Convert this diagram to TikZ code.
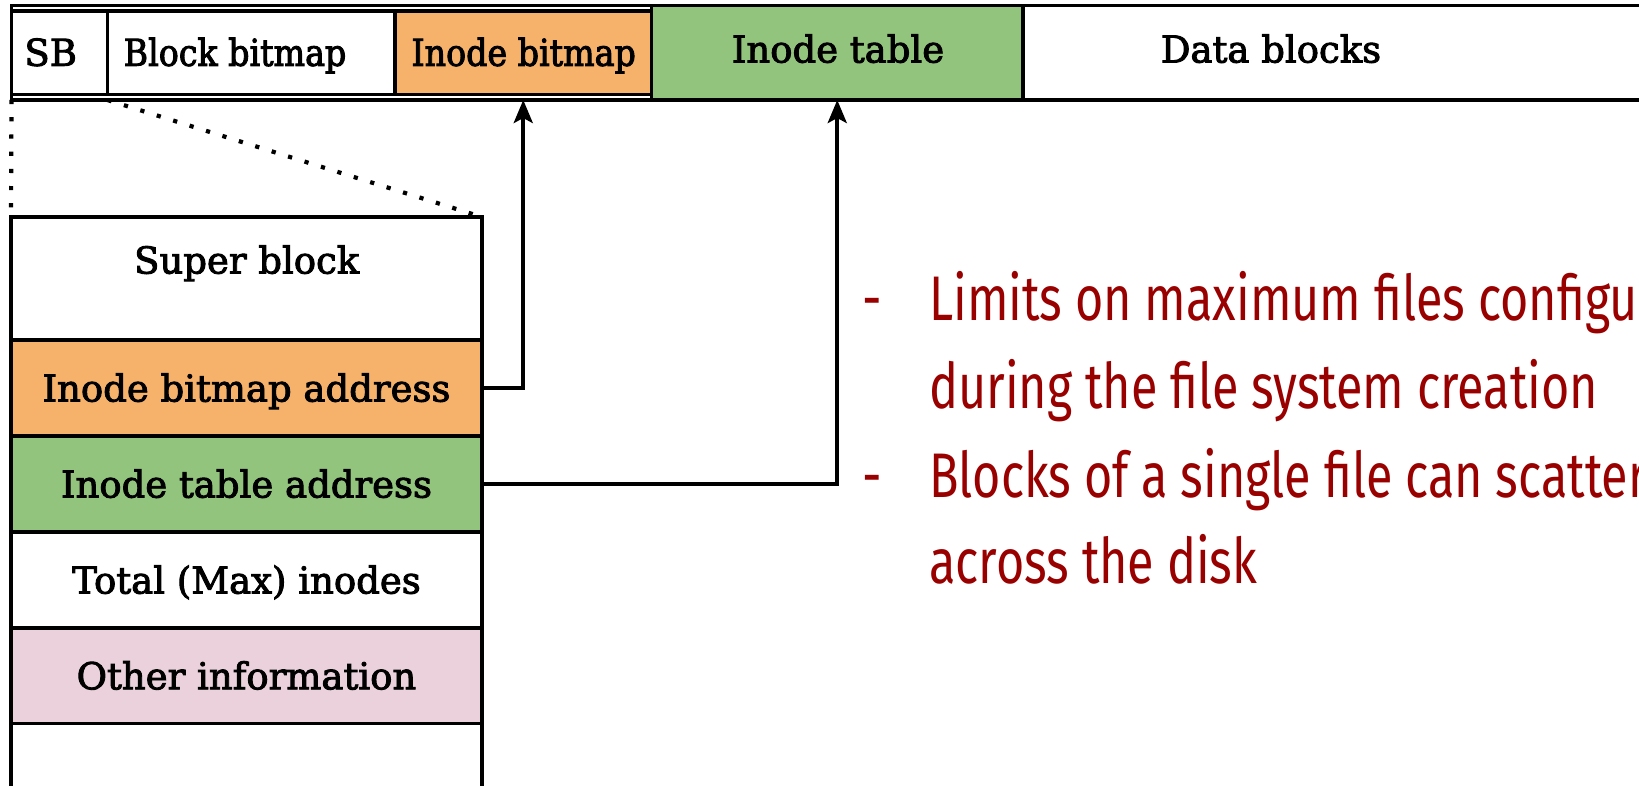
\documentclass[tikz,border=0pt]{standalone}
\usepackage{fontspec}
\setmainfont{DejaVu Serif}
\newfontfamily\boxfont[FakeBold=2.5]{DejaVu Serif}
\newfontfamily\boxfontnarrow[FakeBold=2.5,FakeStretch=0.9]{DejaVu Serif}
\newfontfamily\notefont[FakeStretch=0.77]{Fira Sans}
\usetikzlibrary{arrows.meta}
\definecolor{bmorange}{HTML}{F6B26B}
\definecolor{tblgreen}{HTML}{93C47D}
\definecolor{infopink}{HTML}{EAD1DC}
\definecolor{notered}{HTML}{990000}
\begin{document}
\begin{tikzpicture}[x=1pt,y=-1pt,
  cell/.style={draw=black, line width=3.3pt, inner sep=0pt, outer sep=0pt,
    text height=27pt, text depth=0pt, font=\boxfont\fontsize{37}{44}\selectfont},
  lbl/.style={inner sep=0pt, text height=27pt, text depth=0pt,
    font=\boxfont\fontsize{37}{44}\selectfont},
  narrowlbl/.style={lbl, font=\boxfontnarrow\fontsize{37}{44}\selectfont},
  conn/.style={line width=3.8pt, -{Stealth[length=23pt,width=19pt,inset=5pt]}},
  dots/.style={line width=4.2pt, dash pattern=on 4.2pt off 13pt},
  note/.style={inner sep=0pt, anchor=base west, text=notered,
    font=\notefont\fontsize{63}{76}\selectfont}]
\useasboundingbox (0,0) rectangle (1639,785);
\clip (0,0) rectangle (1639,785);

% on-disk layout: the block group row
\node[cell, fill=white,   minimum width=96pt,    minimum height=83.5pt] (sb) at (59.5,52.75) {};
\node[cell, fill=white,   minimum width=287.5pt, minimum height=83.5pt] (bb) at (251.25,52.75) {};
\node[cell, fill=bmorange,minimum width=256.5pt, minimum height=83.5pt] (ib) at (523.25,52.75) {};
\node[cell, fill=tblgreen,minimum width=371.5pt, minimum height=94.5pt] (it) at (837.25,52.75) {};
\node[cell, fill=white,   minimum width=697pt,   minimum height=94.5pt] (db) at (1371.5,52.75) {};
\node[cell, minimum width=1708.5pt, minimum height=94.5pt] (frame) at (865.75,52.75) {};

\node[lbl] (sbl) at (50.7,52.3) {SB};
\node[narrowlbl] (bbl) at (235,52.3) {Block bitmap};
\node[narrowlbl] (ibl) at (523.7,52.3) {Inode bitmap};
\node[lbl] (itl) at (838,49) {Inode table};
\node[lbl] (dbl) at (1271,49) {Data blocks};

% super block contents
\node[cell, fill=white,    minimum width=471pt, minimum height=123pt] (sup) at (246.5,278.5) {};
\node[lbl] (supl) at (246.7,260) {Super block};
\node[cell, fill=bmorange, minimum width=471pt, minimum height=96pt] (ibaddr) at (246.5,388) {Inode bitmap address};
\node[cell, fill=tblgreen, minimum width=471pt, minimum height=96pt] (itaddr) at (246.5,484) {Inode table address};
\node[cell, fill=white,    minimum width=471pt, minimum height=96pt] (total) at (246.5,580) {Total (Max) inodes};
\node[cell, fill=infopink, minimum width=471pt, minimum height=95.5pt] (other) at (246.5,675.75) {Other information};
\node[cell, fill=white,    minimum width=471pt, minimum height=96.5pt] (rest) at (246.5,771.75) {};

% zoom lines from SB to its expanded view
\draw[dots] (frame.south west) -- (sup.north west);
\draw[dots] (sb.east |- frame.south) -- (sup.north east);

% pointers to the bitmap and the table
\draw[conn] (ibaddr.east) -| (ib.south |- frame.south);
\draw[conn] (itaddr.east) -| (it.south);

% notes
\node[note] (dash1) at (862,320) {-};
\node[note] (note1) at (929,320) {Limits on maximum files configured};
\node[note] (note2) at (929,408) {during the file system creation};
\node[note] (dash2) at (862,497) {-};
\node[note] (note3) at (929,497) {Blocks of a single file can scatter};
\node[note] (note4) at (929,583) {across the disk};
\end{tikzpicture}
\end{document}
